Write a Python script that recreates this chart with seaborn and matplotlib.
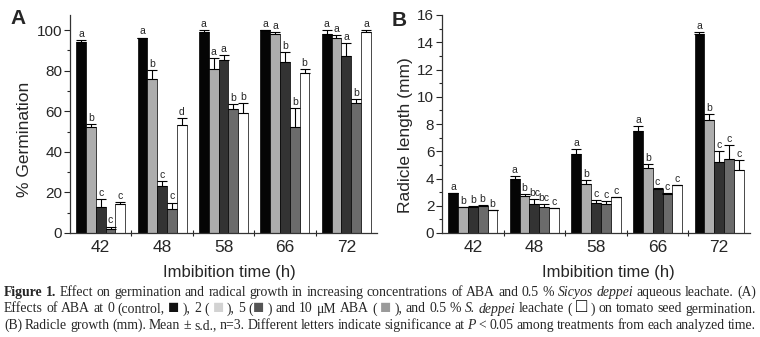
import re
import numpy as np
import pandas as pd
import matplotlib
matplotlib.use("Agg")
import matplotlib.pyplot as plt
from matplotlib.ticker import MultipleLocator, FixedLocator
import seaborn as sns

# === data ===
times = ["42", "48", "58", "66", "72"]
treatments = ["Control", "ABA 2", "ABA 5", "ABA 10", "Leachate"]
bar_colors = ["#050505", "#adadad", "#333333", "#6b6b6b", "#ffffff"]

# panel A: % germination
germ_control = [94, 96, 99, 99.8, 98]
germ_aba2 = [52, 76, 81, 98, 96]
germ_aba5 = [13, 23, 85, 84, 87]
germ_aba10 = [2, 12, 61, 52, 64]
germ_leach = [14.4, 53, 59, 79, 99.2]
germ_err_control = [1.2, 0.3, 1.0, 0.3, 2.0]
germ_err_aba2 = [1.5, 4.3, 5.0, 1.0, 1.4]
germ_err_aba5 = [3.6, 2.8, 2.5, 5.0, 6.5]
germ_err_aba10 = [1.2, 3.0, 2.4, 9.5, 2.1]
germ_err_leach = [1.0, 3.7, 5.0, 1.8, 0.6]
germ_letters = [["a", "a", "a", "a", "a"],
                ["b", "b", "a", "a", "a"],
                ["c", "c", "a", "b", "a"],
                ["c", "c", "b", "b", "b"],
                ["c", "d", "b", "b", "a"]]

# panel B: radicle length (mm)
rad_control = [2.93, 3.98, 5.79, 7.47, 14.63]
rad_aba2 = [1.9, 2.69, 3.59, 4.76, 8.33]
rad_aba5 = [1.9, 2.12, 2.2, 3.25, 5.2]
rad_aba10 = [2.0, 1.9, 2.15, 2.88, 5.45]
rad_leach = [1.66, 1.83, 2.64, 3.52, 4.64]
rad_err_control = [0.03, 0.2, 0.37, 0.35, 0.1]
rad_err_aba2 = [0.03, 0.17, 0.27, 0.32, 0.37]
rad_err_aba5 = [0.1, 0.38, 0.2, 0.03, 0.8]
rad_err_aba10 = [0.03, 0.22, 0.17, 0.03, 1.02]
rad_err_leach = [0.03, 0.03, 0.03, 0.03, 0.73]
rad_letters = [["a", "a", "a", "a", "a"],
               ["b", "b", "b", "b", "b"],
               ["b", "bc", "c", "c", "c"],
               ["b", "bc", "c", "c", "c"],
               ["b", "c", "c", "c", "c"]]

germ_vals = [germ_control, germ_aba2, germ_aba5, germ_aba10, germ_leach]
germ_errs = [germ_err_control, germ_err_aba2, germ_err_aba5, germ_err_aba10, germ_err_leach]
rad_vals = [rad_control, rad_aba2, rad_aba5, rad_aba10, rad_leach]
rad_errs = [rad_err_control, rad_err_aba2, rad_err_aba5, rad_err_aba10, rad_err_leach]


def long_table(vals):
    rows = []
    for trt, series in zip(treatments, vals):
        for t, v in zip(times, series):
            rows.append({"time": t, "treatment": trt, "value": v})
    return pd.DataFrame(rows)


sns.set_style("ticks")
plt.rcParams["font.family"] = ["Liberation Sans", "DejaVu Sans"]

W, H = 760, 337
fig = plt.figure(figsize=(W / 100, H / 100), dpi=100)
axA = fig.add_axes([70 / W, 1 - 233 / H, 307 / W, 218 / H])
axB = fig.add_axes([442 / W, 1 - 233 / H, 308 / W, 218 / H])


def draw_panel(ax, vals, errs, letters, ylim, major, minor, ylabel, ylab_xy, xlab_xy):
    df = long_table(vals)
    sns.barplot(data=df, x="time", y="value", hue="treatment", order=times,
                hue_order=treatments, palette=bar_colors, edgecolor="black",
                linewidth=0.5, width=0.8, errorbar=None, legend=False,
                saturation=1, ax=ax)
    for cont, err, labs in zip(ax.containers, errs, letters):
        xs = [b.get_x() + b.get_width() / 2 for b in cont]
        hs = [b.get_height() for b in cont]
        ax.errorbar(xs, hs, yerr=[np.zeros(len(err)), err], fmt="none",
                    ecolor="black", elinewidth=0.8, capsize=3.3, capthick=0.8)
        for x, h, e, lab in zip(xs, hs, err, labs):
            ax.annotate(lab, (x, h + e), xytext=(0, 0.8), textcoords="offset points",
                        ha="center", va="bottom", fontsize=7.5)
    ax.set_xlim(-0.5, 4.5)
    ax.set_ylim(*ylim)
    ax.yaxis.set_major_locator(MultipleLocator(major))
    ax.yaxis.set_minor_locator(MultipleLocator(minor))
    ax.xaxis.set_minor_locator(FixedLocator([0.5, 1.5, 2.5, 3.5]))
    ax.tick_params(axis="y", which="major", length=4, width=0.8, labelsize=11, pad=1.5)
    ax.tick_params(axis="y", which="minor", length=2.5, width=0.8)
    ax.tick_params(axis="x", which="major", length=0, labelsize=12.5, pad=5)
    ax.tick_params(axis="x", which="minor", direction="inout", length=5, width=0.8)
    sns.despine(ax=ax)
    for s in ["left", "bottom"]:
        ax.spines[s].set_linewidth(0.9)
        ax.spines[s].set_color("#333333")
    ax.set_ylabel(ylabel, fontsize=12.5, va="center")
    ax.set_xlabel("Imbibition time (h)", fontsize=12, va="center")
    ax.yaxis.set_label_coords(*ylab_xy)
    ax.xaxis.set_label_coords(*xlab_xy)


draw_panel(axA, germ_vals, germ_errs, germ_letters, (0, 107.4), 20, 10,
           "% Germination", (-0.147, 0.43), (0.518, -0.179))
draw_panel(axB, rad_vals, rad_errs, rad_letters, (0, 16), 2, 1,
           "Radicle length (mm)", (-0.12, 0.45), (0.54, -0.179))

fig.text(18 / W, 1 - 19 / H, "A", fontsize=15, fontweight="bold", ha="center", va="center")
fig.text(399 / W, 1 - 20 / H, "B", fontsize=15, fontweight="bold", ha="center", va="center")

# === caption, justified like the journal text ===
cap_lines = [
    "**Figure 1.** Effect on germination and radical growth in increasing concentrations of ABA and 0.5 % *Sicyos deppei* aqueous leachate. (A)",
    "Effects of ABA at 0 (control, [k] ), 2 ( [l] ), 5 ([d] ) and 10 \u03bcM ABA ( [m] ), and 0.5 % *S. deppei* leachate ( [w] ) on tomato seed germination.",
    "(B) Radicle growth (mm). Mean \u00b1 s.d., n=3. Different letters indicate significance at *P* < 0.05 among treatments from each analyzed time.",
]
cap_baselines = [296, 312.5, 329]
squares = {"k": ("\u25a0", "#111111"), "l": ("\u25a0", "#d2d2d2"),
           "d": ("\u25a0", "#555555"), "m": ("\u25a0", "#9a9a9a"),
           "w": ("\u25a1", "#000000")}
cap_family = ["Liberation Serif", "DejaVu Serif"]
cap_size = 9.9
renderer = fig.canvas.get_renderer()


def chunks_of(line):
    out = []
    for piece in re.split(r"(\*\*.*?\*\*|\*.*?\*|\[\w\])", line):
        if not piece:
            continue
        if piece.startswith("**"):
            out.append((piece[2:-2], {"fontweight": "bold"}))
        elif piece.startswith("*"):
            out.append((piece[1:-1], {"fontstyle": "italic"}))
        elif piece.startswith("["):
            ch, col = squares[piece[1]]
            out.append((ch, {"color": col, "fontsize": cap_size * 1.35}))
        else:
            out.append((piece, {}))
    return out


for line, yb in zip(cap_lines, cap_baselines):
    words = [[]]
    for text, style in chunks_of(line):
        parts = text.split(" ")
        for i, p in enumerate(parts):
            if i > 0:
                words.append([])
            if p:
                words[-1].append((p, style))
    words = [w for w in words if w]
    placed = []
    widths = []
    for w in words:
        objs, tot = [], 0
        for text, style in w:
            kw = {"fontsize": cap_size}
            kw.update(style)
            t = fig.text(0, 1 - yb / H, text, family=cap_family,
                         va="baseline", ha="left", **kw)
            wd = t.get_window_extent(renderer).width
            objs.append((t, wd))
            tot += wd
        placed.append(objs)
        widths.append(tot)
    x0, x1 = 4, 756
    gap = max((x1 - x0 - sum(widths)) / (len(words) - 1), 1.5)
    x = x0
    for objs, tot in zip(placed, widths):
        xx = x
        for t, wd in objs:
            t.set_x(xx / W)
            xx += wd
        x += tot + gap

fig.savefig("out.png", dpi=100)
